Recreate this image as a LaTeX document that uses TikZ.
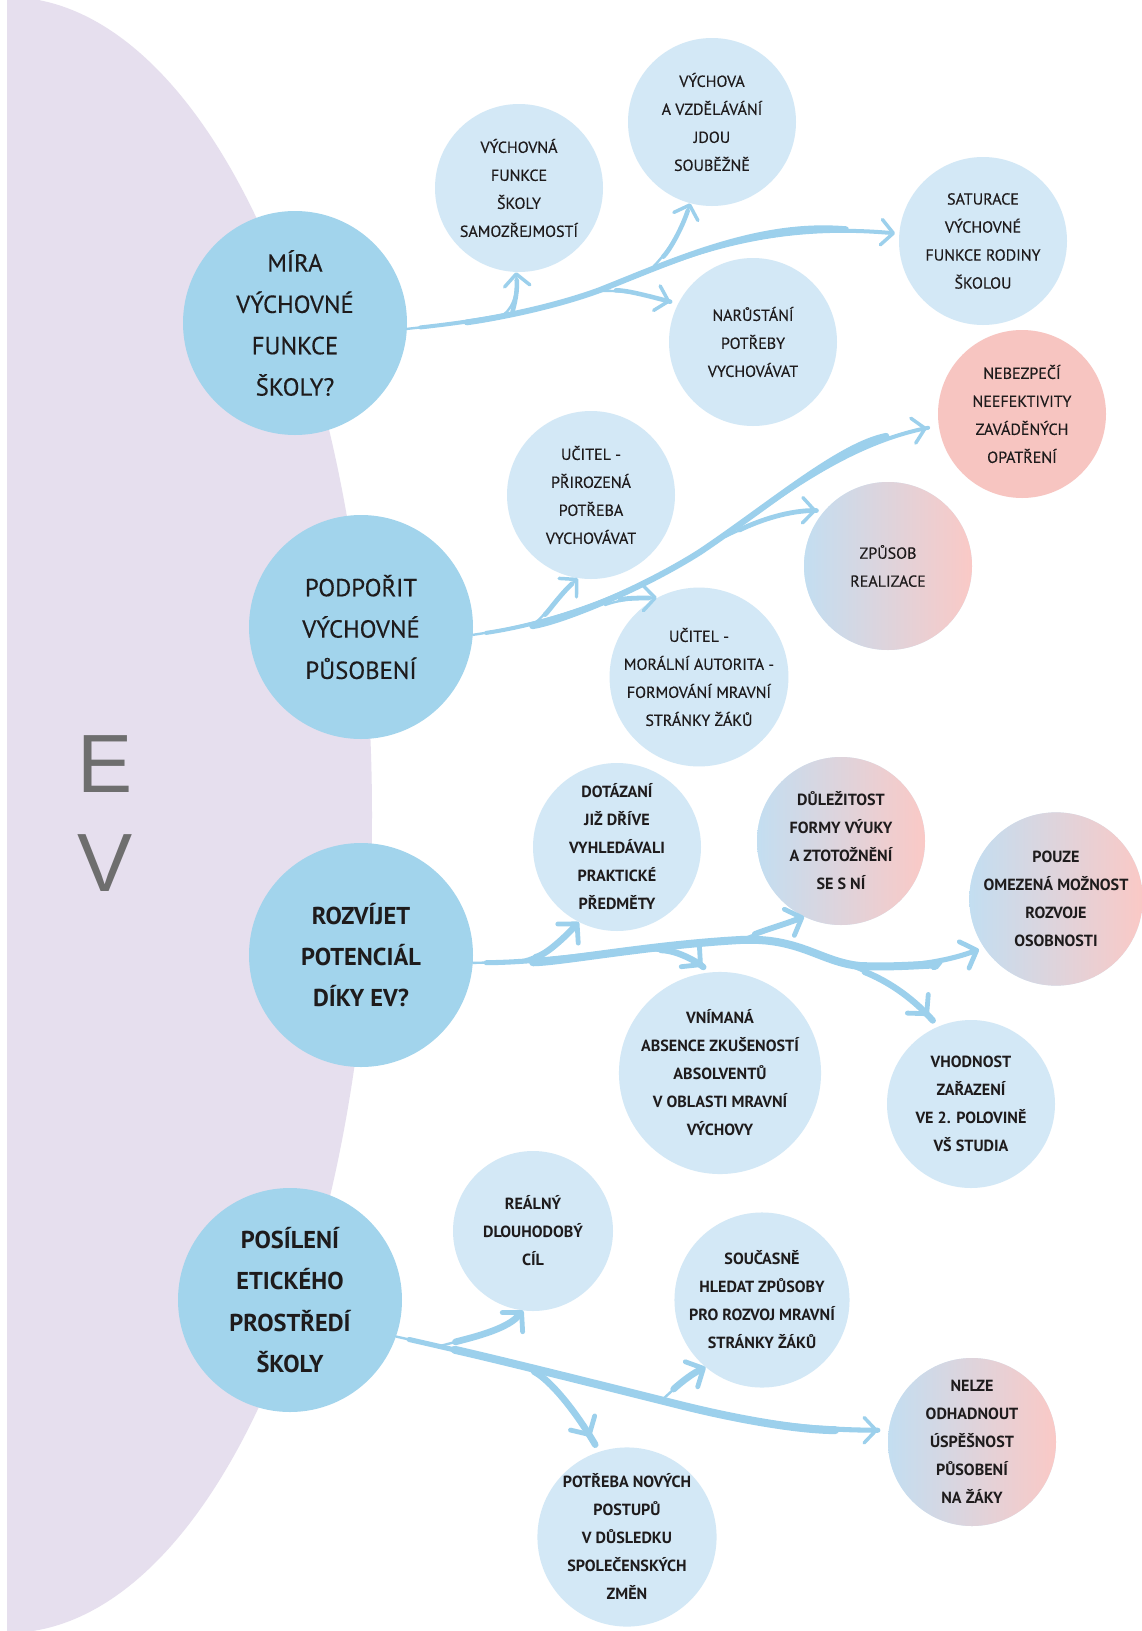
\documentclass[tikz,border=0pt]{standalone}
\usepackage{fontspec}
\setmainfont{PT Sans}
\newfontfamily\regfont{PT Sans}[FakeBold=0.35]
\newfontfamily\evfont{Liberation Sans}
\usetikzlibrary{arrows.meta,calc}

\definecolor{evbg}{HTML}{E6DFEE}
\definecolor{mainc}{HTML}{A2D4EC}
\definecolor{subc}{HTML}{D3E8F6}
\definecolor{pinkc}{HTML}{F7C5C1}
\definecolor{gradL}{HTML}{C3DEF1}
\definecolor{gradR}{HTML}{FAC9C6}
\definecolor{arrc}{HTML}{9CD0EC}
\definecolor{txtc}{HTML}{1E1B1C}
\definecolor{evtxt}{HTML}{6E6E6E}

\begin{document}
\begin{tikzpicture}[x=0.75pt,y=-0.75pt,
  mainnode/.style={circle, fill=mainc, minimum size=168pt, inner sep=0pt, align=center, text=txtc, font=\regfont\fontsize{18.5}{31}\selectfont},
  mainbold/.style={mainnode, font=\fontsize{18.3}{31}\selectfont\bfseries},
  subnode/.style={circle, fill=subc, minimum size=126pt, inner sep=0pt, align=center, text=txtc, font=\regfont\fontsize{12}{21}\selectfont},
  subbold/.style={subnode, font=\fontsize{12.1}{21}\selectfont\bfseries},
  pinknode/.style={fill=pinkc},
  gradnode/.style={left color=gradL, right color=gradR},
  flow/.style={draw=arrc, line width=1.8pt, line cap=round, -{Straight Barb[length=9pt,width=19pt,line width=2.6pt,round]}},
  heavy/.style={flow, -{Straight Barb[length=10pt,width=21pt,line width=3.6pt,round]}},
  tap/.style={preaction={draw=arrc, line width=#1, line cap=round, -, shorten <=12pt, shorten >=6pt}},
  tap/.default=3.6pt,
  trunk/.style 2 args={preaction={draw=arrc, line width=#1, line cap=round, -, shorten <=10pt, shorten >=8pt},
                       preaction={draw=arrc, line width=#2, line cap=round, -, shorten <=45pt, shorten >=40pt}}
]
\useasboundingbox (0,0) rectangle (1142,1631);
\fill[white] (0,0) rectangle (1142,1631);
\begin{scope}
  \clip (7,0) rectangle (1142,1631);
  \fill[evbg] (7,815) ellipse [x radius=273.75pt, y radius=613.5pt];
\end{scope}

\node[text=evtxt, font=\evfont\fontsize{62}{62}\selectfont] (ee) at (105,764) {E};
\node[text=evtxt, font=\evfont\fontsize{62}{62}\selectfont] (vv) at (105,863) {V};

% main circles
\node[mainnode] (m1) at (295,323) {MÍRA\\VÝCHOVNÉ\\FUNKCE\\ŠKOLY?};
\node[mainnode] (m2) at (361,627) {PODPOŘIT\\VÝCHOVNÉ\\PŮSOBENÍ};
\node[mainbold] (m3) at (361,955) {ROZVÍJET\\POTENCIÁL\\DÍKY EV?};
\node[mainbold] (m4) at (290,1300) {POSÍLENÍ\\ETICKÉHO\\PROSTŘEDÍ\\ŠKOLY};

% group 1
\node[subnode] (s1a) at (519,188) {VÝCHOVNÁ\\FUNKCE\\ŠKOLY\\SAMOZŘEJMOSTÍ};
\node[subnode] (s1b) at (712,122) {VÝCHOVA\\A VZDĚLÁVÁNÍ\\JDOU\\SOUBĚŽNĚ};
\node[subnode] (s1c) at (983,241) {SATURACE\\VÝCHOVNÉ\\FUNKCE RODINY\\ŠKOLOU};
\node[subnode] (s1d) at (753,342) {NARŮSTÁNÍ\\POTŘEBY\\VYCHOVÁVAT};

% group 2
\node[subnode] (s2a) at (591,495) {UČITEL -\\PŘIROZENÁ\\POTŘEBA\\VYCHOVÁVAT};
\node[subnode] (s2b) at (699,677) {UČITEL -\\MORÁLNÍ AUTORITA -\\FORMOVÁNÍ MRAVNÍ\\STRÁNKY ŽÁKŮ};
\node[subnode, gradnode] (s2c) at (888,566) {ZPŮSOB\\REALIZACE};
\node[subnode, pinknode] (s2d) at (1022,414) {NEBEZPEČÍ\\NEEFEKTIVITY\\ZAVÁDĚNÝCH\\OPATŘENÍ};

% group 3
\node[subbold] (s3a) at (617,847) {DOTÁZANÍ\\JIŽ DŘÍVE\\VYHLEDÁVALI\\PRAKTICKÉ\\PŘEDMĚTY};
\node[subbold] (s3b) at (720,1073) {VNÍMANÁ\\ABSENCE ZKUŠENOSTÍ\\ABSOLVENTŮ\\V OBLASTI MRAVNÍ\\VÝCHOVY};
\node[subbold, gradnode] (s3c) at (841,841) {DŮLEŽITOST\\FORMY VÝUKY\\A ZTOTOŽNĚNÍ\\SE S NÍ};
\node[subbold, gradnode] (s3d) at (1056,899) {POUZE\\OMEZENÁ MOŽNOST\\ROZVOJE\\OSOBNOSTI};
\node[subbold] (s3e) at (971,1104) {VHODNOST\\ZAŘAZENÍ\\VE 2. POLOVINĚ\\VŠ STUDIA};

% group 4
\node[subbold, minimum size=120pt] (s4a) at (533,1231) {REÁLNÝ\\DLOUHODOBÝ\\CÍL};
\node[subbold] (s4b) at (762,1300) {SOUČASNĚ\\HLEDAT ZPŮSOBY\\PRO ROZVOJ MRAVNÍ\\STRÁNKY ŽÁKŮ};
\node[subbold, gradnode] (s4c) at (972,1442) {NELZE\\ODHADNOUT\\ÚSPĚŠNOST\\PŮSOBENÍ\\NA ŽÁKY};
\node[subbold] (s4d) at (627,1537) {POTŘEBA NOVÝCH\\POSTUPŮ\\V DŮSLEDKU\\SPOLEČENSKÝCH\\ZMĚN};

% ---------- connectors group 1
\coordinate (j1a) at (498,318);
\coordinate (j1d) at (600,291);
\coordinate (j1b) at (652,268);
\draw[flow, trunk={3pt}{4.4pt}, shorten >=3pt] (m1.-3) .. controls (470,322) and (540,312) .. (600,290) .. controls (680,258) and (760,222) .. (s1c.175);
\draw[flow, tap=3.4pt] (j1a) .. controls (512,312) and (518,295) .. (s1a.-92);
\draw[flow, tap=3.4pt] (j1b) .. controls (670,250) and (682,228) .. (s1b.-105);
\draw[flow, tap=3.4pt, shorten >=6pt] (j1d) .. controls (625,290) and (645,295) .. (s1d.153);

% ---------- connectors group 2
\coordinate (j2a) at (533,625);
\coordinate (j2b) at (605,605);
\coordinate (j2c) at (725,537);
\draw[flow, trunk={3pt}{4.6pt}, shorten >=9pt] (m2.-4) .. controls (560,622) and (640,590) .. (700,552) .. controls (770,505) and (840,445) .. (s2d.188);
\draw[flow, tap=3.6pt] (j2a) .. controls (548,612) and (560,595) .. (s2a.-99);
\draw[flow, tap=3.6pt] (j2b) .. controls (625,598) and (645,598) .. (s2b.118);
\draw[flow, tap=3.6pt, shorten >=6pt] (j2c) .. controls (760,520) and (790,510) .. (s2c.139);

% ---------- connectors group 3
\coordinate (j3a) at (520,961);
\coordinate (j3b) at (645,950);
\coordinate (j3c) at (740,940);
\coordinate (j3e) at (850,966);
\draw[heavy, trunk={3.8pt}{6pt}, shorten >=4pt] (m3.-4) .. controls (560,962) and (650,945) .. (740,940) .. controls (800,937) and (820,962) .. (860,966) .. controls (905,968) and (945,962) .. (s3d.-146);
\draw[heavy, tap=4.8pt] (j3a) .. controls (545,955) and (562,940) .. (s3a.-117);
\draw[heavy, tap=4.8pt, shorten >=7pt] (j3b) .. controls (675,950) and (695,960) .. (s3b.96);
\draw[heavy, tap=4.4pt] (j3c) .. controls (765,930) and (785,924) .. (s3c.-116);
\draw[heavy, tap=4.8pt, shorten >=11pt] (j3e) .. controls (885,980) and (910,995) .. (s3e.113);

% ---------- connectors group 4
\coordinate (j4a) at (440,1346);
\coordinate (j4d) at (520,1364);
\coordinate (j4b) at (662,1400);
\draw[flow, trunk={3.8pt}{6pt}, shorten >=8pt] (m4.-19) .. controls (500,1360) and (600,1385) .. (680,1405) .. controls (740,1420) and (800,1430) .. (s4c.172);
\draw[heavy, tap=5pt] (j4a) .. controls (470,1338) and (505,1330) .. (s4a.-97);
\draw[heavy, tap=5pt, shorten >=13pt] (j4d) .. controls (550,1380) and (575,1410) .. (s4d.108);
\draw[heavy, tap=5pt] (j4b) .. controls (678,1385) and (690,1375) .. (s4b.-130);
\end{tikzpicture}
\end{document}
